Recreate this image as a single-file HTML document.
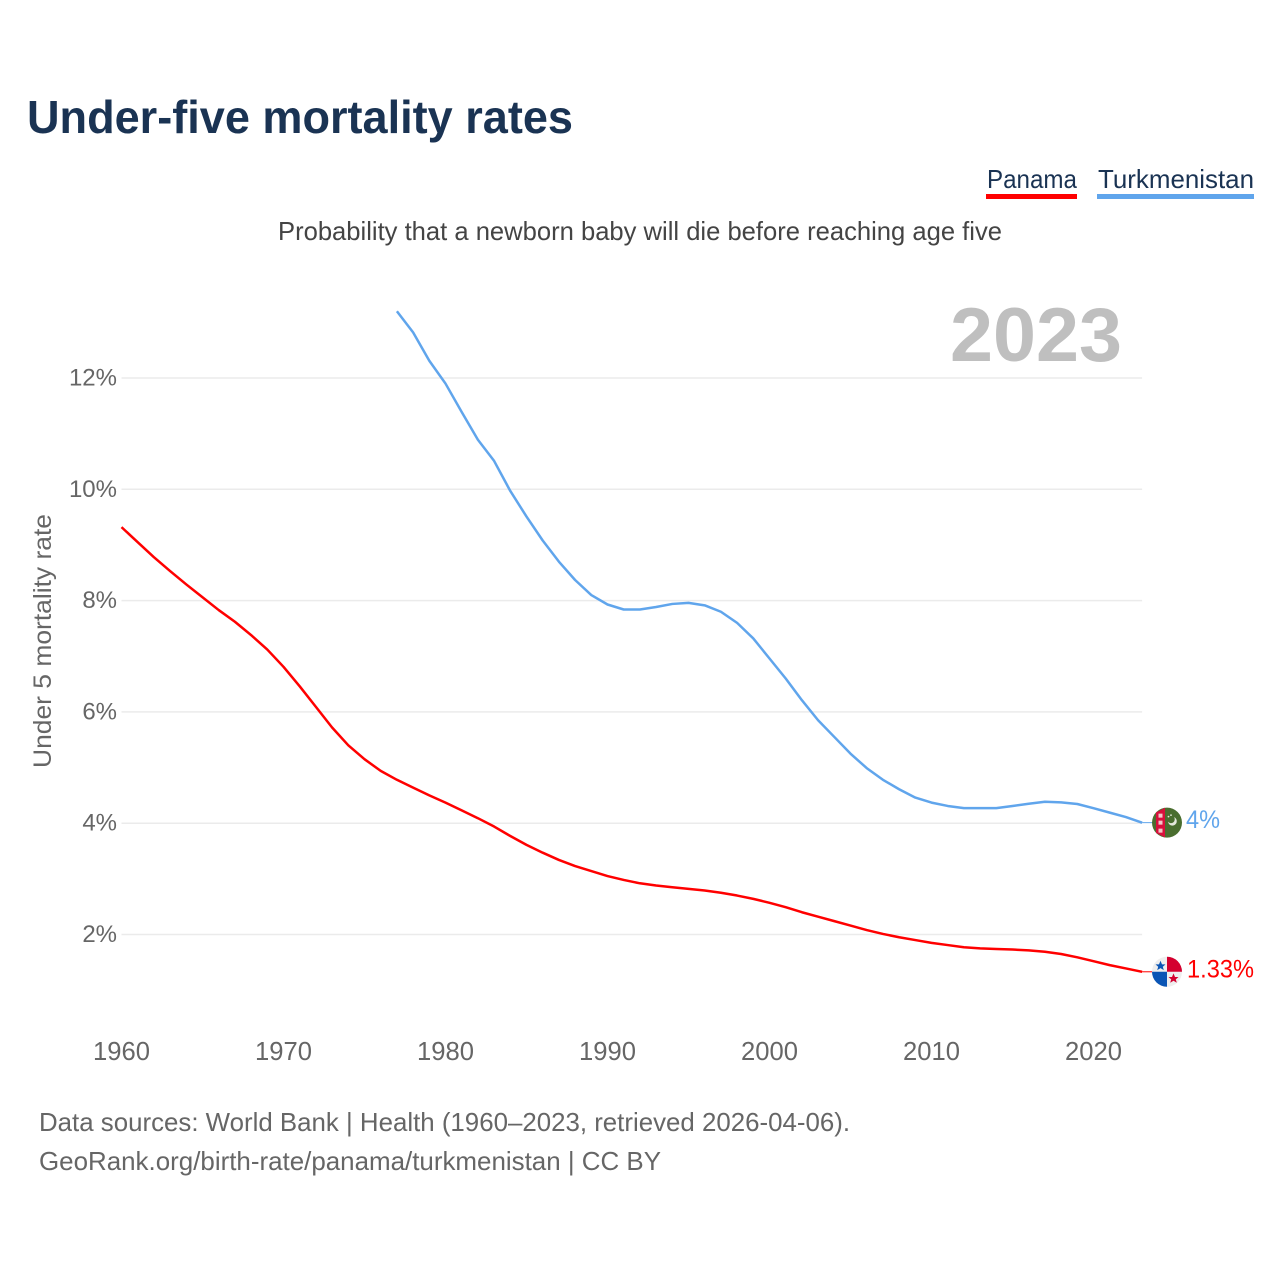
<!DOCTYPE html>
<html lang="en">
<head>
<meta charset="utf-8">
<title>Under-five mortality rates</title>
<style>
  html, body { margin: 0; padding: 0; background: #fff; }
  svg { display: block; }
  text { font-family: "Liberation Sans", sans-serif; }
</style>
</head>
<body>
<svg id="chart" xmlns="http://www.w3.org/2000/svg" width="1280" height="1280" viewBox="0 0 1280 1280">
  <rect x="0" y="0" width="1280" height="1280" fill="#ffffff"/>
  <text x="27" y="133" font-size="46" font-weight="700" fill="#1a3353" textLength="546" lengthAdjust="spacingAndGlyphs">Under-five mortality rates</text>

  <g>
    <text x="987" y="188" font-size="26" fill="#1a3353" textLength="90" lengthAdjust="spacingAndGlyphs">Panama</text>
    <rect x="986" y="194" width="91" height="5" fill="#ff0000"/>
  </g>
  <g>
    <text x="1098" y="188" font-size="26" fill="#1a3353" textLength="156" lengthAdjust="spacingAndGlyphs">Turkmenistan</text>
    <rect x="1097" y="194" width="157" height="5" fill="#60a5ec"/>
  </g>

  <text x="278" y="240" font-size="26" fill="#444444" textLength="724" lengthAdjust="spacingAndGlyphs">Probability that a newborn baby will die before reaching age five</text>
  <text x="950" y="361" font-size="76" font-weight="700" fill="#bfbfbf" textLength="172" lengthAdjust="spacingAndGlyphs">2023</text>
  <text transform="translate(51 768) rotate(-90)" x="0" y="0" font-size="25" fill="#666666" textLength="254" lengthAdjust="spacingAndGlyphs">Under 5 mortality rate</text>

  <g id="grid"></g>
  <g id="yticks"></g>
  <g id="xticks"></g>
  <g id="series"></g>

  <g id="flag-turkmenistan">
    <circle cx="0" cy="0" r="15" fill="#4a6e2f"/>
    <path d="M-11 -10.2 L-2 -14.9 L-2 14.9 L-11 10.2 Z" fill="#d8103c"/>
    <rect x="-8.5" y="-9" width="4" height="4" fill="#f2c8c8"/>
    <rect x="-8.5" y="-2" width="4" height="4" fill="#f2c8c8"/>
    <rect x="-8.5" y="6" width="4" height="4" fill="#f2c8c8"/>
    <path d="M7 -5.5 A4.4 4.4 0 1 1 1 -1 A3.6 3.6 0 0 0 7 -5.5 Z" fill="#e4e8dc"/>
    <circle cx="1.5" cy="-6" r="0.9" fill="#e4e8dc"/>
    <circle cx="4" cy="-7.5" r="0.9" fill="#e4e8dc"/>
  </g>
  <g id="flag-panama">
    <circle cx="0" cy="0" r="15" fill="#eeeeee"/>
    <path d="M0 0 L0 -15 A15 15 0 0 1 15 0 Z" fill="#d4002f"/>
    <path d="M0 0 L0 15 A15 15 0 0 1 -15 0 Z" fill="#0a55b5"/>
    <polygon points="-6.5,-11 -5,-7.4 -1.5,-7.4 -4.2,-5 -3.2,-1.6 -6.5,-3.6 -9.8,-1.6 -8.8,-5 -11.5,-7.4 -8,-7.4" fill="#0a55b5"/>
    <polygon points="6.5,1.6 8,5.2 11.5,5.2 8.8,7.6 9.8,11 6.5,9 3.2,11 4.2,7.6 1.5,5.2 5,5.2" fill="#d4002f"/>
  </g>
  <g id="end-labels"></g>

  <text x="39" y="1131" font-size="26" fill="#666666" textLength="811" lengthAdjust="spacingAndGlyphs">Data sources: World Bank | Health (1960–2023, retrieved 2026-04-06).</text>
  <text x="39" y="1170" font-size="26" fill="#666666" textLength="622" lengthAdjust="spacingAndGlyphs">GeoRank.org/birth-rate/panama/turkmenistan | CC BY</text>
</svg>

<script>
const yTicks = [2, 4, 6, 8, 10, 12];
const xTicks = [1960, 1970, 1980, 1990, 2000, 2010, 2020];
const lastYear = 2023;
const panamaFirstYear = 1960;
const turkmenistanFirstYear = 1977;
const panamaValues = [
  9.32, 9.05, 8.78, 8.53, 8.29, 8.06, 7.83, 7.62, 7.38, 7.12,
  6.81, 6.46, 6.09, 5.72, 5.40, 5.15, 4.94, 4.78, 4.64, 4.50,
  4.37, 4.23, 4.09, 3.94, 3.77, 3.61, 3.47, 3.34, 3.23, 3.14,
  3.05, 2.98, 2.92, 2.88, 2.85, 2.82, 2.79, 2.75, 2.70, 2.64,
  2.57, 2.49, 2.40, 2.32, 2.24, 2.16, 2.08, 2.01, 1.95, 1.90,
  1.85, 1.81, 1.77, 1.75, 1.74, 1.73, 1.715, 1.69, 1.65, 1.59,
  1.52, 1.45, 1.39, 1.33
];
const turkmenistanValues = [
  13.20, 12.82, 12.31, 11.90, 11.39, 10.89, 10.51, 9.97, 9.51, 9.08,
  8.70, 8.37, 8.10, 7.93, 7.84, 7.84, 7.885, 7.94, 7.96, 7.915,
  7.80, 7.60, 7.32, 6.96, 6.60, 6.21, 5.85, 5.55, 5.25, 4.99,
  4.78, 4.61, 4.46, 4.37, 4.31, 4.27, 4.27, 4.27, 4.31, 4.35,
  4.385, 4.375, 4.345, 4.27, 4.19, 4.11, 4.01
];
const endLabelPanama = "1.33%";
const endLabelTurkmenistan = "4%";

const NS = "http://www.w3.org/2000/svg";
function xScale(year) { return 121.5 + (year - 1960) * 16.2; }
function yScale(value) { return 1045.8 - value * 55.65; }

const gridGroup = document.getElementById("grid");
const yTickGroup = document.getElementById("yticks");
const xTickGroup = document.getElementById("xticks");
const seriesGroup = document.getElementById("series");
const endGroup = document.getElementById("end-labels");

yTicks.forEach(function (tick) {
  const line = document.createElementNS(NS, "line");
  
  
  line.setAttribute("x1", xScale(1960));
  line.setAttribute("x2", xScale(lastYear));
  line.setAttribute("y1", yScale(tick));
  line.setAttribute("y2", yScale(tick));
  line.setAttribute("stroke", "#ebebeb");
  line.setAttribute("stroke-width", "1.5");
  gridGroup.appendChild(line);

  const label = document.createElementNS(NS, "text");
  
  
  label.setAttribute("x", "117");
  label.setAttribute("y", yScale(tick) + 7.5);
  label.setAttribute("text-anchor", "end");
  label.setAttribute("font-size", "24");
  label.setAttribute("fill", "#666666");
  label.textContent = tick + "%";
  yTickGroup.appendChild(label);
});

xTicks.forEach(function (tick) {
  const label = document.createElementNS(NS, "text");
  
  
  label.setAttribute("x", xScale(tick));
  label.setAttribute("y", "1060");
  label.setAttribute("text-anchor", "middle");
  label.setAttribute("font-size", "25.6");
  label.setAttribute("fill", "#666666");
  label.textContent = tick;
  xTickGroup.appendChild(label);
});

function linePath(values, firstYear) {
  return values.map(function (value, i) {
    return (i === 0 ? "M" : "L") + xScale(firstYear + i).toFixed(2) + " " + yScale(value).toFixed(2);
  }).join(" ");
}

const panamaLine = document.createElementNS(NS, "path");


panamaLine.setAttribute("d", linePath(panamaValues, panamaFirstYear));
panamaLine.setAttribute("fill", "none");
panamaLine.setAttribute("stroke", "#ff0000");
panamaLine.setAttribute("stroke-width", "2.5");
panamaLine.setAttribute("stroke-linejoin", "round");
seriesGroup.appendChild(panamaLine);

const turkmenistanLine = document.createElementNS(NS, "path");


turkmenistanLine.setAttribute("d", linePath(turkmenistanValues, turkmenistanFirstYear));
turkmenistanLine.setAttribute("fill", "none");
turkmenistanLine.setAttribute("stroke", "#60a5ec");
turkmenistanLine.setAttribute("stroke-width", "2.5");
turkmenistanLine.setAttribute("stroke-linejoin", "round");
seriesGroup.appendChild(turkmenistanLine);

const panamaLast = yScale(panamaValues[panamaValues.length - 1]);
const turkmenistanLast = yScale(turkmenistanValues[turkmenistanValues.length - 1]);

const panamaConnector = document.createElementNS(NS, "line");


panamaConnector.setAttribute("x1", xScale(lastYear));
panamaConnector.setAttribute("x2", "1153");
panamaConnector.setAttribute("y1", panamaLast);
panamaConnector.setAttribute("y2", panamaLast);
panamaConnector.setAttribute("stroke", "#ff0000");
panamaConnector.setAttribute("stroke-width", "1");
seriesGroup.appendChild(panamaConnector);

const turkmenistanConnector = document.createElementNS(NS, "line");


turkmenistanConnector.setAttribute("x1", xScale(lastYear));
turkmenistanConnector.setAttribute("x2", "1153");
turkmenistanConnector.setAttribute("y1", turkmenistanLast);
turkmenistanConnector.setAttribute("y2", turkmenistanLast);
turkmenistanConnector.setAttribute("stroke", "#60a5ec");
turkmenistanConnector.setAttribute("stroke-width", "1");
seriesGroup.appendChild(turkmenistanConnector);

document.getElementById("flag-panama").setAttribute("transform", "translate(1167 " + panamaLast + ")");
document.getElementById("flag-turkmenistan").setAttribute("transform", "translate(1167 " + turkmenistanLast + ")");

const panamaEnd = document.createElementNS(NS, "text");


panamaEnd.setAttribute("x", "1187");
panamaEnd.setAttribute("y", panamaLast + 5.5);
panamaEnd.setAttribute("font-size", "25");
panamaEnd.setAttribute("fill", "#ff0000");
panamaEnd.setAttribute("textLength", "67");
panamaEnd.setAttribute("lengthAdjust", "spacingAndGlyphs");
panamaEnd.textContent = endLabelPanama;
endGroup.appendChild(panamaEnd);

const turkmenistanEnd = document.createElementNS(NS, "text");


turkmenistanEnd.setAttribute("x", "1186");
turkmenistanEnd.setAttribute("y", turkmenistanLast + 5.5);
turkmenistanEnd.setAttribute("font-size", "25");
turkmenistanEnd.setAttribute("fill", "#60a5ec");
turkmenistanEnd.setAttribute("textLength", "34");
turkmenistanEnd.setAttribute("lengthAdjust", "spacingAndGlyphs");
turkmenistanEnd.textContent = endLabelTurkmenistan;
endGroup.appendChild(turkmenistanEnd);
</script>
</body>
</html>
